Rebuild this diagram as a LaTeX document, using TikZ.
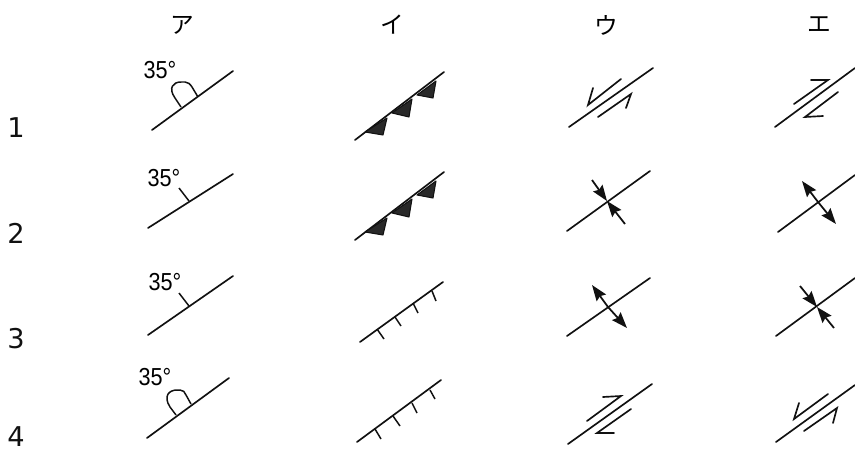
\documentclass[tikz,border=0pt]{standalone}
\usepackage{fontspec}
\usetikzlibrary{arrows.meta}
\newfontfamily\kanafont{Noto Sans CJK JP}
\newfontfamily\anglefont[FakeStretch=0.88]{Liberation Sans}
\newfontfamily\digitfont{DejaVu Sans}
\definecolor{tusche}{HTML}{111111}
\begin{document}
\begin{tikzpicture}[
        x=0.02cm, y=-0.02cm,
        fault/.style={line width=0.95pt, tusche, line cap=round},
        tickmark/.style={line width=0.85pt, tusche},
        barb/.style={fill=tusche!90, draw=tusche, line width=0.6pt, line join=round},
        slip/.style={line width=0.95pt, tusche, line join=miter, line cap=round},
        stress/.style={-{Stealth[length=9pt, width=6.5pt, inset=1.2pt]}, line width=1pt, tusche},
        kana/.style={font=\kanafont\fontsize{13.5}{13.5}\selectfont, inner sep=0pt},
        angle/.style={font=\anglefont\fontsize{14}{14}\selectfont, inner sep=0pt},
        rownum/.style={font=\digitfont\fontsize{15.5}{15.5}\selectfont, inner sep=0pt, text=tusche}
      ]
      \useasboundingbox (0,0) rectangle (855,450);

      % column heads and row numbers
      \node[kana] (headA) at (182,25) {ア};
      \node[kana] (headI) at (392,25) {イ};
      \node[kana] (headU) at (606,25) {ウ};
      \node[kana] (headE) at (819,25) {エ};
      \node[rownum] (rowA) at (16,128) {1};
      \node[rownum] (rowB) at (16,233) {2};
      \node[rownum] (rowC) at (16,339) {3};
      \node[rownum] (rowD) at (16,437) {4};

      % column A
      \node[angle] (angleA) at (160,70)  {35°};
      \node[angle] (angleB) at (164,178) {35°};
      \node[angle] (angleC) at (165,282) {35°};
      \node[angle] (angleD) at (155,377) {35°};
      \draw[fault] (152,130) -- (233,71);
      \draw[tickmark] (181,107) -- (175,98) .. controls (168,88) and (173,82) .. (181,82)
        -- (185,82) .. controls (188,82) and (190,84) .. (192,87) -- (198,97);
      \draw[fault] (148,228) -- (233,174);
      \draw[tickmark] (189,201) -- (179,188);
      \draw[fault] (148,335) -- (233,276);
      \draw[tickmark] (189,306) -- (179,293);
      \draw[fault] (147,438) -- (229,378);
      \draw[tickmark] (176,415) -- (170,407) .. controls (163,396) and (169,390) .. (177,390)
        -- (180,390) .. controls (183,390) and (185,392) .. (186,395) -- (191,404);

      % column I
      \draw[fault] (355,140) -- (444,72);
      \draw[barb] (365,132) -- (387,118) -- (383,135) -- cycle;
      \draw[barb] (392,113) -- (412,99) -- (409,117) -- cycle;
      \draw[barb] (417,95) -- (436,81) -- (433,98) -- cycle;
      \draw[fault] (355,240) -- (444,172);
      \draw[barb] (365,232) -- (387,218) -- (383,235) -- cycle;
      \draw[barb] (392,213) -- (412,199) -- (409,217) -- cycle;
      \draw[barb] (417,195) -- (436,181) -- (433,198) -- cycle;
      \draw[fault] (360,342) -- (443,282);
      \draw[tickmark] (377,329) -- (384,339);
      \draw[tickmark] (395,317) -- (401,326);
      \draw[tickmark] (413,303) -- (418,313);
      \draw[tickmark] (432,291) -- (436,301);
      \draw[fault] (357,442) -- (441,380);
      \draw[tickmark] (375,429) -- (381,439);
      \draw[tickmark] (393,416) -- (400,426);
      \draw[tickmark] (412,403) -- (417,413);
      \draw[tickmark] (430,390) -- (435,399);

      % column U
      \draw[fault] (569,127) -- (653,68);
      \draw[slip] (621,79) -- (588,105) -- (593,88);
      \draw[slip] (598,117) -- (631,94) -- (626,108);
      \draw[fault] (567,231) -- (650,171);
      \draw[stress] (592,180) -- (607,201);
      \draw[stress] (625,224) -- (607,201);
      \draw[fault] (567,336) -- (650,278);
      \draw[stress] (608,307) -- (592,285);
      \draw[stress] (608,307) -- (627,328);
      \draw[fault] (568,444) -- (652,384);
      \draw[slip] (587,421) -- (621,396) -- (603,397);
      \draw[slip] (631,409) -- (597,433) -- (614,433);

      % column E
      \draw[fault] (775,127) -- (855,68);
      \draw[slip] (794,104) -- (828,80) -- (811,80);
      \draw[slip] (838,92) -- (805,117) -- (823,116);
      \draw[fault] (778,232) -- (855,175);
      \draw[stress] (818,202) -- (802,181);
      \draw[stress] (818,202) -- (836,224);
      \draw[fault] (776,336) -- (855,278);
      \draw[stress] (800,286) -- (817,307);
      \draw[stress] (834,328) -- (817,307);
      \draw[fault] (776,442) -- (855,385);
      \draw[slip] (828,394) -- (794,419) -- (799,403);
      \draw[slip] (804,431) -- (837,408) -- (833,423);
    \end{tikzpicture}
\end{document}
